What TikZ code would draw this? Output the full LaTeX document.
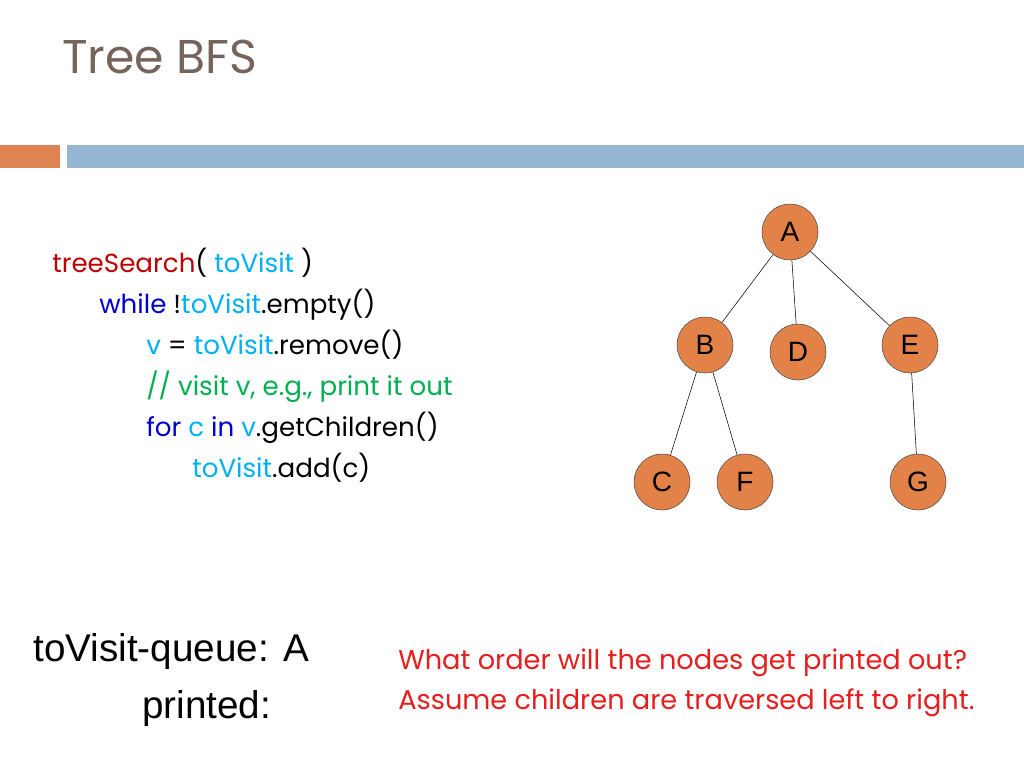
\documentclass[tikz,border=0pt]{standalone}
\usepackage{fontspec}
\setmainfont{Poppins}
\newfontfamily\arialfont{Liberation Sans}
\usetikzlibrary{positioning}
\definecolor{titlegray}{RGB}{118,100,90}
\definecolor{barorange}{RGB}{221,132,82}
\definecolor{barblue}{RGB}{148,182,210}
\definecolor{treeorange}{RGB}{226,130,72}
\definecolor{codered}{RGB}{192,0,0}
\definecolor{codecyan}{RGB}{0,176,240}
\definecolor{codeblue}{RGB}{0,0,204}
\definecolor{codegreen}{RGB}{0,176,80}
\definecolor{askred}{RGB}{230,30,30}
\newcommand{\tv}{\textcolor{codecyan}{toVisit}}

\begin{document}
\begin{tikzpicture}[x=0.75pt, y=-0.75pt,
    treenode/.style={circle, draw=black!70, fill=treeorange, minimum size=42pt, inner sep=0pt, font=\arialfont\fontsize{21}{21}\selectfont},
    codeline/.style={anchor=base west, inner sep=0pt, font=\fontsize{19.6}{19.6}\selectfont},
    asktext/.style={anchor=base west, inner sep=0pt, text=askred, font=\fontsize{20.4}{20.4}\selectfont},
    bigtext/.style={anchor=base west, inner sep=0pt, font=\arialfont\fontsize{29}{29}\selectfont},
    treeedge/.style={draw, thin}]

 \useasboundingbox (0,0) rectangle (1024,768);

 \node[anchor=base west, inner sep=0pt, text=titlegray, font=\fontsize{35.5}{35.5}\selectfont] (title) at (62,73) {Tree BFS};
 \fill[barorange] (0,145) rectangle (60,168);
 \fill[barblue] (67,145) rectangle (1024,168);

 % code
 \node[codeline] (line1) at (52,272) {\textcolor{codered}{treeSearch}( \tv{} )};
 \node[codeline] (line2) at (99,313) {\textcolor{codeblue}{while} !\tv.empty()};
 \node[codeline] (line3) at (146,354) {\textcolor{codecyan}{v} = \tv.remove()};
 \node[codeline, text=codegreen] (line4) at (146,395) {// visit v, e.g., print it out};
 \node[codeline] (line5) at (146,436) {\textcolor{codeblue}{for} \textcolor{codecyan}{c} \textcolor{codeblue}{in} \textcolor{codecyan}{v}.getChildren()};
 \node[codeline] (line6) at (192,477) {\tv.add(c)};

 % tree
 \node[treenode] (A) at (790,232) {A};
 \node[treenode] (B) at (705,345) {B};
 \node[treenode] (D) at (798,352) {D};
 \node[treenode] (E) at (910,345) {E};
 \node[treenode] (C) at (662,482) {C};
 \node[treenode] (F) at (745,482) {F};
 \node[treenode] (G) at (918,482) {G};

 \draw[treeedge] (A) -- (B);
 \draw[treeedge] (A) -- (D);
 \draw[treeedge] (A) -- (E);
 \draw[treeedge] (B) -- (C);
 \draw[treeedge] (B) -- (F);
 \draw[treeedge] (E) -- (G);

 % bottom
 \node[bigtext] (queue) at (33,661) {toVisit-queue: A};
 \node[bigtext] (printed) at (142,718) {printed:};
 \node[asktext] (ask1) at (398,669) {What order will the nodes get printed out?};
 \node[asktext] (ask2) at (398,709) {Assume children are traversed left to right.};
\end{tikzpicture}
\end{document}
